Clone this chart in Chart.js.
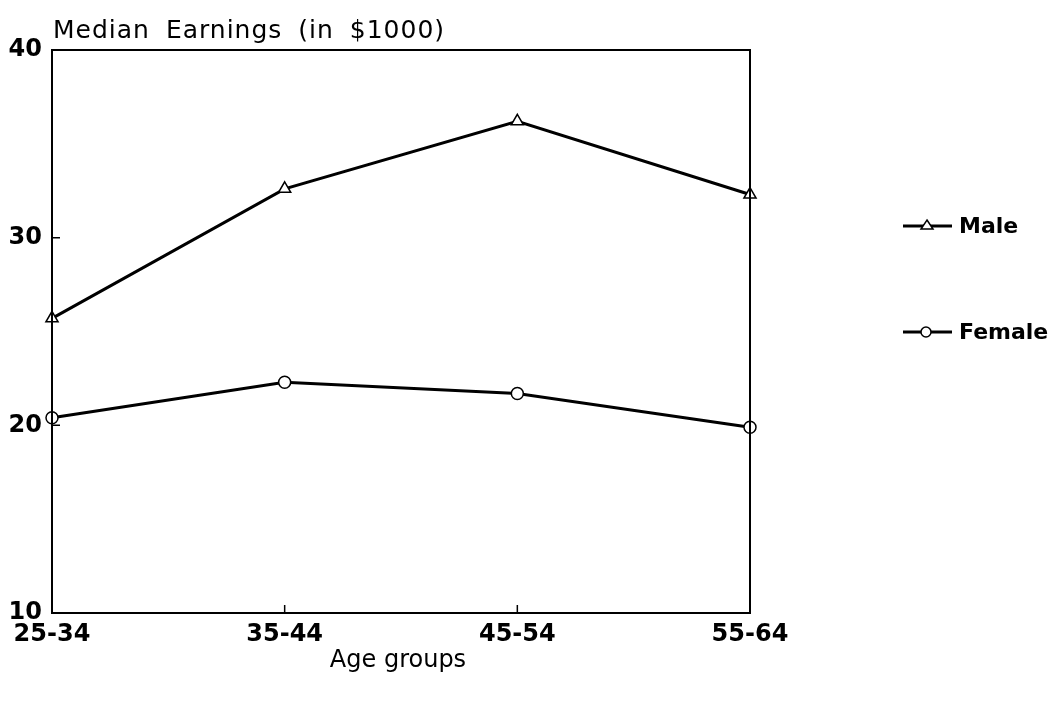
<!DOCTYPE html>
<html>
<head>
    <meta http-equiv="Content-Type" content="text/html; charset=utf-8"/>
    <title>Median Earnings</title>
    <style>
        html, body { margin: 0; padding: 0; background: #fff; }
        #wrap { width: 1052px; height: 701px; }
    </style>
</head>
<body>
    <div id="wrap">
        <canvas id="myChart" width="1052" height="701"></canvas>
    </div>
    <script src="https://cdn.jsdelivr.net/npm/chart.js"></script>
    <script>
        const ageGroups = ['25-34', '35-44', '45-54', '55-64'];
        const maleEarnings = [25.7, 32.6, 36.2, 32.3];
        const femaleEarnings = [20.4, 22.3, 21.7, 19.9];
        const yTicks = [10, 20, 30, 40];

        const fontName = '"DejaVu Sans", Verdana, sans-serif';

        // box round the plot, inward ticks, titles and legend
        const framePlugin = {
            id: 'frame',
            afterDraw(chart) {
                const ctx = chart.ctx;
                const a = chart.chartArea;
                const xs = chart.scales.x;
                const ys = chart.scales.y;
                ctx.save();
                ctx.strokeStyle = '#000';
                ctx.lineWidth = 2;
                ctx.strokeRect(a.left, a.top, a.right - a.left, a.bottom - a.top);

                ctx.lineWidth = 1.5;
                ctx.beginPath();
                for (let i = 1; i < ageGroups.length - 1; i++) {
                    const px = xs.getPixelForValue(i);
                    ctx.moveTo(px, a.bottom);
                    ctx.lineTo(px, a.bottom - 8);
                }
                yTicks.slice(1, -1).forEach(v => {
                    const py = ys.getPixelForValue(v);
                    ctx.moveTo(a.left, py);
                    ctx.lineTo(a.left + 8, py);
                });
                ctx.stroke();

                ctx.fillStyle = '#000';
                ctx.font = '25px ' + fontName;
                ctx.textAlign = 'left';
                ctx.textBaseline = 'alphabetic';
                ctx.letterSpacing = '1px';
                ctx.wordSpacing = '7px';
                ctx.fillText('Median Earnings (in $1000)', a.left + 1, 38);
                ctx.letterSpacing = '0px';
                ctx.wordSpacing = '0px';

                ctx.font = '24px ' + fontName;
                ctx.textAlign = 'center';
                ctx.textBaseline = 'middle';
                ctx.fillText('Age groups', 398, 661);

                // legend
                const items = chart.data.datasets;
                const legendY = [226, 332];
                ctx.font = 'bold 22px ' + fontName;
                ctx.textAlign = 'left';
                items.forEach((ds, i) => {
                    const y = legendY[i];
                    ctx.lineWidth = 3;
                    ctx.beginPath();
                    ctx.moveTo(903, y);
                    ctx.lineTo(952, y);
                    ctx.stroke();
                    ctx.lineWidth = 1.5;
                    ctx.beginPath();
                    if (ds.pointStyle === 'triangle') {
                        ctx.moveTo(927, y - 6);
                        ctx.lineTo(933, y + 3);
                        ctx.lineTo(921, y + 3);
                        ctx.closePath();
                    } else {
                        ctx.arc(926, y, 5, 0, Math.PI * 2);
                    }
                    ctx.fillStyle = '#fff';
                    ctx.fill();
                    ctx.stroke();
                    ctx.fillStyle = '#000';
                    ctx.fillText(ds.label, 959, y + 1);
                });
                ctx.restore();
            }
        };

        const chartData = {
            labels: ageGroups,
            datasets: [
                {
                    label: 'Male',
                    data: maleEarnings,
                    borderColor: '#000',
                    borderWidth: 3,
                    pointStyle: 'triangle',
                    pointRadius: 7,
                    pointBorderWidth: 1.5,
                    pointBackgroundColor: '#fff',
                    pointBorderColor: '#000',
                    tension: 0
                },
                {
                    label: 'Female',
                    data: femaleEarnings,
                    borderColor: '#000',
                    borderWidth: 3,
                    pointStyle: 'circle',
                    pointRadius: 6,
                    pointBorderWidth: 1.5,
                    pointBackgroundColor: '#fff',
                    pointBorderColor: '#000',
                    tension: 0
                }
            ]
        };

        const config = {
            type: 'line',
            data: chartData,
            options: {
                responsive: false,
                animation: false,
                layout: { padding: { top: 50, right: 302, left: 0, bottom: 20 } },
                plugins: {
                    legend: { display: false },
                    tooltip: { enabled: false }
                },
                scales: {
                    x: {
                        offset: false,
                        grid: { display: false, drawTicks: false },
                        border: { display: false },
                        ticks: {
                            color: '#000',
                            padding: 7,
                            maxRotation: 0,
                            font: { family: fontName, size: 24, weight: 'bold' }
                        },
                        afterFit(scale) { scale.height = 68; }
                    },
                    y: {
                        min: 10,
                        max: 40,
                        grid: { display: false, drawTicks: false },
                        border: { display: false },
                        ticks: {
                            stepSize: 10,
                            color: '#000',
                            padding: 10,
                            font: { family: fontName, size: 24, weight: 'bold' }
                        },
                        afterFit(scale) { scale.width = 52; }
                    }
                }
            },
            plugins: [framePlugin]
        };

        const myChart = new Chart(
            document.getElementById('myChart'),
            config
        );
    </script>
</body>
</html>
